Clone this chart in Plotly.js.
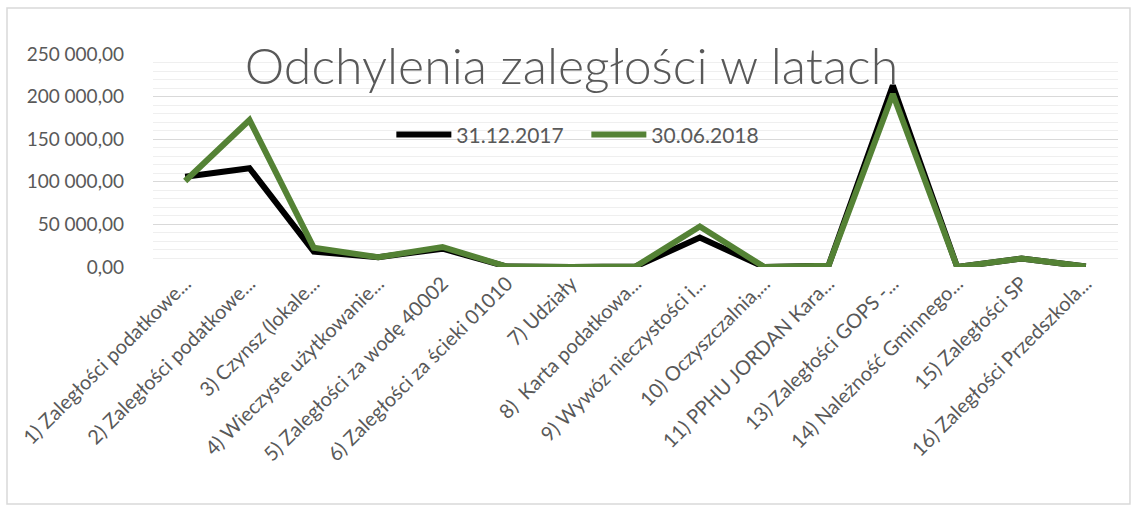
<!DOCTYPE html>
<html>
<head>
<meta charset="utf-8">
<script src="https://cdn.plot.ly/plotly-3.0.1.min.js"></script>
<style>
  html, body { margin: 0; padding: 0; background: #fff; }
  #graphDiv { width: 1136px; height: 508px; }
</style>
</head>
<body>
<div id="graphDiv"></div>
<script>
var categories = [
  '1) Zaległości podatkowe...',
  '2) Zaległości podatkowe...',
  '3) Czynsz (lokale...',
  '4) Wieczyste użytkowanie...',
  '5) Zaległości za wodę 40002',
  '6) Zaległości za ścieki 01010',
  '7) Udziały',
  '8)  Karta podatkowa...',
  '9) Wywóz nieczystości i...',
  '10) Oczyszczalnia,...',
  '11) PPHU JORDAN Kara...',
  '13) Zaległości GOPS -...',
  '14) Należność Gminnego...',
  '15) Zaległości SP',
  '16) Zaległości Przedszkola...'
];

var v2017 = [106000, 116000, 18000, 11500, 21500, 500, 0, 500, 34500, 0, 1500, 213000, 0, 10000, 500];
var v2018 = [101000, 172500, 22500, 11500, 23500, 500, 0, 500, 47500, 0, 1500, 203000, 0, 10000, 500];

var idx = categories.map(function (c, i) { return i; });

var trace1 = {
    x: idx,
    y: v2017,
    name: '31.12.2017',
    type: 'scatter',
    mode: 'lines',
    line: {color: '#000000', width: 6}
};

var trace2 = {
    x: idx,
    y: v2018,
    name: '30.06.2018',
    type: 'scatter',
    mode: 'lines',
    line: {color: '#548235', width: 6}
};

var data = [trace1, trace2];

var layout = {
    width: 1136,
    height: 508,
    margin: {l: 153, r: 18, t: 54, b: 241},
    paper_bgcolor: '#ffffff',
    plot_bgcolor: '#ffffff',
    separators: ', ',
    font: {family: 'Lato, "Open Sans", sans-serif', color: '#595959'},
    title: {
        text: 'Odchylenia zaległości w latach',
        font: {size: 50, color: '#595959', weight: 300},
        x: 0.503, xanchor: 'center',
        y: 0.87, yanchor: 'middle'
    },
    showlegend: true,
    legend: {
        orientation: 'h',
        x: 0.247, xanchor: 'left',
        y: 0.62, yanchor: 'middle',
        bgcolor: 'rgba(0,0,0,0)',
        font: {size: 21, color: '#595959'},
        itemwidth: 55,
        entrywidth: 125,
        entrywidthmode: 'pixels',
        traceorder: 'normal'
    },
    xaxis: {
        range: [-0.5, 14.5],
        tickmode: 'array',
        tickvals: idx,
        ticktext: categories,
        tickangle: -45,
        tickfont: {size: 20, color: '#595959'},
        showgrid: false,
        zeroline: false,
        showline: false,
        ticks: '',
        fixedrange: true
    },
    yaxis: {
        range: [0, 250000],
        dtick: 50000,
        tickformat: ',.2f',
        tickfont: {size: 19, color: '#595959'},
        showgrid: true,
        gridcolor: '#d9d9d9',
        gridwidth: 1,
        minor: {dtick: 10000, showgrid: true, gridcolor: '#efefef', gridwidth: 1},
        zeroline: false,
        showline: false,
        ticks: '',
        ticklabelstandoff: 28,
        fixedrange: true
    },
    shapes: [{
        type: 'rect', xref: 'paper', yref: 'paper',
        x0: -0.1513, x1: 1.0124, y0: -1.113, y1: 1.216,
        line: {color: '#d9d9d9', width: 1.5},
        layer: 'below'
    }]
};

Plotly.newPlot('graphDiv', data, layout, {displayModeBar: false, staticPlot: true});
</script>
</body>
</html>
